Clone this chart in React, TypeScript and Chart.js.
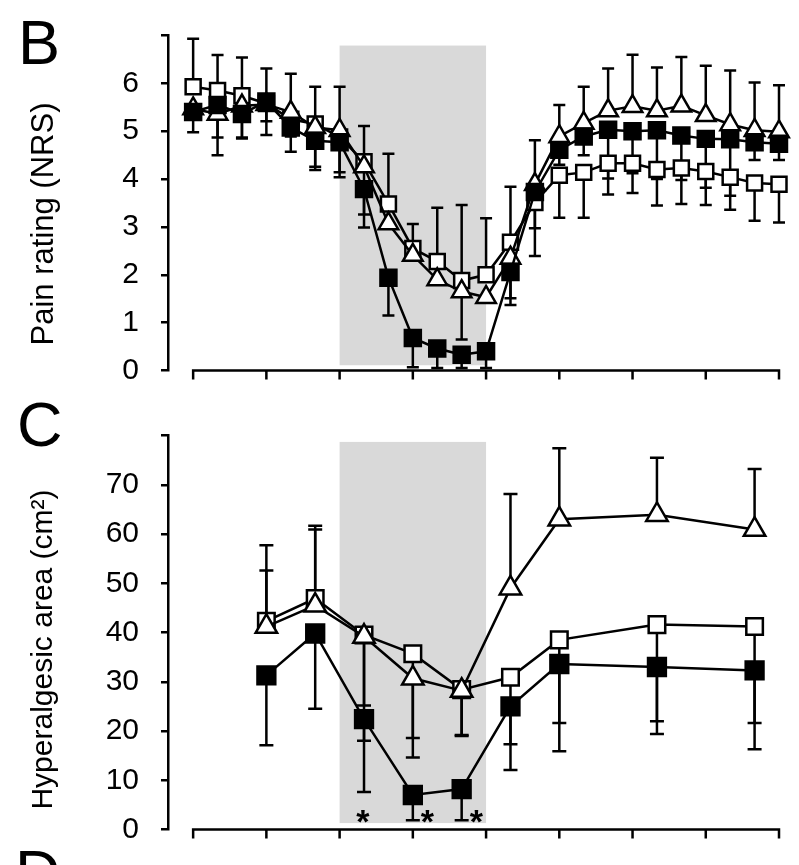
import React, { useEffect, useRef } from "react";
import { Chart, registerables } from "chart.js";

Chart.register(...registerables);

const FONT = '"Liberation Sans", Arial, Helvetica, sans-serif';

// ---------- shared x (time) axis ----------
const xTicks = [0, 3, 6, 9, 12, 15, 18, 21, 24];
const shadePeriod = [6, 12];

// ---------- Panel B: pain rating (NRS) ----------
const bTime = [0, 1, 2, 3, 4, 5, 6, 7, 8, 9, 10, 11, 12, 13, 14, 15, 16, 17, 18, 19, 20, 21, 22, 23, 24];
const bOpen = [5.93, 5.85, 5.74, 5.58, 5.25, 5.15, 4.88, 4.36, 3.48, 2.55, 2.28, 1.88, 2.0, 2.68, 3.51, 4.08, 4.14, 4.33, 4.33, 4.2, 4.23, 4.16, 4.04, 3.92, 3.89];
const bOpenErr = [6.93, 6.59, 6.54, 6.31, 6.2, 5.93, 5.93, 5.11, 4.53, 3.06, 3.4, 3.46, 3.18, 1.51, 2.39, 3.19, 3.19, 3.68, 3.71, 3.45, 3.48, 3.46, 3.36, 3.13, 3.09];
const bTri = [5.47, 5.36, 5.53, 5.56, 5.4, 5.08, 5.02, 4.26, 3.07, 2.41, 1.9, 1.65, 1.53, 2.35, 3.89, 4.89, 5.17, 5.43, 5.52, 5.43, 5.53, 5.33, 5.14, 5.02, 4.99];
const bTriErr = [null, 4.5, 4.85, 5.21, 4.89, 4.26, 4.14, 2.99, null, null, null, 0.65, null, 3.84, 4.81, 5.55, 5.93, 6.31, 6.6, 6.33, 6.55, 6.37, 6.27, 6.02, 5.96];
const bFilled = [5.4, 5.55, 5.36, 5.62, 5.08, 4.8, 4.77, 3.79, 1.94, 0.68, 0.46, 0.33, 0.4, 2.06, 3.73, 4.61, 4.89, 5.03, 5.0, 5.02, 4.91, 4.84, 4.83, 4.77, 4.74];
const bFilledErr = [4.98, 4.87, 4.87, 4.92, 4.57, 4.19, 4.04, 3.26, 1.15, 0.07, 0.05, 0.05, 0.05, 1.37, 2.97, 4.3, 4.5, 4.01, 4.12, 4.0, 3.98, 3.82, 3.65, 4.4, 4.4];
const bYTicks = [0, 1, 2, 3, 4, 5, 6, 7];
const bYLabels = ["0", "1", "2", "3", "4", "5", "6", ""];
const bShadeRange = [0.11, 6.79];

// ---------- Panel C: hyperalgesic area (cm²) ----------
const cTime = [3, 5, 7, 9, 11, 13, 15, 19, 23];
const cOpen = [42.3, 46.9, 39.5, 35.7, 28.4, 30.9, 38.5, 41.6, 41.2];
const cOpenErr = [57.7, 61.7, 25.2, 18.6, 19.0, 17.3, 21.6, 22.0, 21.6];
const cTri = [41.2, 45.5, 39.2, 30.7, 28.2, 49.0, 63.0, 63.9, 60.9];
const cTriErr = [52.6, 60.9, 18.0, 14.6, 19.2, 68.1, 77.4, 75.5, 73.2];
const cFilled = [31.3, 39.8, 22.4, 7.0, 8.2, 25.0, 33.6, 33.0, 32.3];
const cFilledErr = [17.1, 24.5, 7.6, 1.9, 1.9, 12.1, 15.9, 19.4, 16.3];
const cYTicks = [0, 10, 20, 30, 40, 50, 60, 70, 80];
const cYLabels = ["0", "10", "20", "30", "40", "50", "60", "70", ""];
const cShadeRange = [1.3, 78.7];
const cAsteriskTime = [6.95, 9.6, 11.6];
const cAsteriskValue = 3.3;

type PanelSpec = {
  yMin: number;
  yMax: number;
  yTicks: number[];
  yLabels: string[];
  padding: { top: number; right: number; bottom: number; left: number };
  shadeRange: number[];
  capWidth: number;
  title: string;
  titleFont: number;
  titleDy: number;
  letters: { text: string; x: number; y: number }[];
  asteriskTime?: number[];
  asteriskValue?: number;
  datasets: any[];
};

function series(time: number[], vals: number[], errs: (number | null)[], shape: string, fill: string, radius: number) {
  return {
    data: time.map((t, i) => ({ x: t, y: vals[i] })),
    errEnd: errs,
    borderColor: "#000",
    borderWidth: 2.5,
    backgroundColor: fill,
    pointStyle: shape,
    pointRadius: radius,
    pointBackgroundColor: fill,
    pointBorderColor: "#000",
    pointBorderWidth: 2.5,
    tension: 0,
    clip: false,
    fill: false,
  };
}

function makeOverlay(p: PanelSpec) {
  return {
    id: "overlay",
    beforeDatasetsDraw(chart: any) {
      const { ctx } = chart;
      const xs = chart.scales.x;
      const ys = chart.scales.y;
      ctx.save();
      // shaded treatment period
      const x0 = xs.getPixelForValue(shadePeriod[0]);
      const x1 = xs.getPixelForValue(shadePeriod[1]);
      const y0 = ys.getPixelForValue(p.shadeRange[1]);
      const y1 = ys.getPixelForValue(p.shadeRange[0]);
      ctx.fillStyle = "#d9d9d9";
      ctx.fillRect(x0, y0, x1 - x0, y1 - y0);
      // error bars
      ctx.strokeStyle = "#000";
      ctx.lineWidth = 2.5;
      ctx.lineCap = "butt";
      chart.data.datasets.forEach((ds: any) => {
        const errs = ds.errEnd;
        if (!errs) return;
        ds.data.forEach((pt: any, i: number) => {
          const e = errs[i];
          if (e === null || e === undefined) return;
          const px = xs.getPixelForValue(pt.x);
          const py = ys.getPixelForValue(pt.y);
          const pe = ys.getPixelForValue(e);
          ctx.beginPath();
          ctx.moveTo(px, py);
          ctx.lineTo(px, pe);
          ctx.moveTo(px - p.capWidth / 2, pe);
          ctx.lineTo(px + p.capWidth / 2, pe);
          ctx.stroke();
        });
      });
      ctx.restore();
    },
    afterDraw(chart: any) {
      const { ctx, chartArea } = chart;
      const xs = chart.scales.x;
      const ys = chart.scales.y;
      ctx.save();
      // x axis (starts at time 0, detached from y axis)
      ctx.strokeStyle = "#000";
      ctx.lineWidth = 2.5;
      const yb = chartArea.bottom;
      ctx.beginPath();
      ctx.moveTo(xs.getPixelForValue(xTicks[0]) - 1.25, yb);
      ctx.lineTo(xs.getPixelForValue(xTicks[xTicks.length - 1]) + 1.25, yb);
      xTicks.forEach((t) => {
        const px = xs.getPixelForValue(t);
        ctx.moveTo(px, yb);
        ctx.lineTo(px, yb + 9);
      });
      ctx.stroke();
      // y title
      ctx.fillStyle = "#000";
      ctx.font = `${p.titleFont}px ${FONT}`;
      ctx.textAlign = "center";
      ctx.textBaseline = "middle";
      ctx.translate(44, (chartArea.top + chartArea.bottom) / 2 + p.titleDy);
      ctx.rotate(-Math.PI / 2);
      ctx.fillText(p.title, 0, 0);
      ctx.setTransform(1, 0, 0, 1, 0, 0);
      // panel letters
      ctx.textAlign = "left";
      ctx.textBaseline = "alphabetic";
      ctx.font = `63px ${FONT}`;
      p.letters.forEach((l) => ctx.fillText(l.text, l.x, l.y));
      // asterisks
      if (p.asteriskTime) {
        ctx.font = `bold 34px ${FONT}`;
        ctx.textAlign = "center";
        p.asteriskTime.forEach((t) => {
          ctx.fillText("*", xs.getPixelForValue(t), ys.getPixelForValue(p.asteriskValue as number) + 20);
        });
      }
      ctx.restore();
    },
  };
}

function buildConfig(p: PanelSpec): any {
  return {
    type: "line",
    data: { datasets: p.datasets },
    options: {
      responsive: false,
      maintainAspectRatio: false,
      animation: false,
      devicePixelRatio: 1,
      events: [],
      layout: { padding: p.padding },
      plugins: { legend: { display: false }, tooltip: { enabled: false } },
      scales: {
        x: { type: "linear", min: -1.03, max: 24, display: false },
        y: {
          type: "linear",
          min: p.yMin,
          max: p.yMax,
          afterFit: (s: any) => {
            s.width = 168;
          },
          afterBuildTicks: (s: any) => {
            s.ticks = p.yTicks.map((v) => ({ value: v }));
          },
          ticks: {
            color: "#000",
            padding: 22,
            font: { family: FONT, size: 30, lineHeight: 0.9 },
            callback: (_v: any, i: number) => p.yLabels[i],
          },
          grid: { drawOnChartArea: false, drawTicks: true, tickLength: 7, color: "#000", lineWidth: 2.5 },
          border: { display: true, color: "#000", width: 2.5 },
        },
      },
    },
    plugins: [makeOverlay(p)],
  };
}

export default function App() {
  const refB = useRef<HTMLCanvasElement | null>(null);
  const refC = useRef<HTMLCanvasElement | null>(null);

  useEffect(() => {
    const specB: PanelSpec = {
      yMin: 0,
      yMax: 7,
      yTicks: bYTicks,
      yLabels: bYLabels,
      padding: { top: 14, right: 20, bottom: 20, left: 0 },
      shadeRange: bShadeRange,
      capWidth: 12,
      title: "Pain rating (NRS)",
      titleFont: 31,
      titleDy: 21,
      letters: [{ text: "B", x: 18, y: 64 }],
      datasets: [
        series(bTime, bFilled, bFilledErr, "rect", "#000", 11.3),
        series(bTime, bTri, bTriErr, "triangle", "#fff", 11.3),
        series(bTime, bOpen, bOpenErr, "rect", "#fff", 10.6),
      ],
    };
    const specC: PanelSpec = {
      yMin: 0,
      yMax: 80,
      yTicks: cYTicks,
      yLabels: cYLabels,
      padding: { top: 16, right: 20, bottom: 25, left: 0 },
      shadeRange: cShadeRange,
      capWidth: 14,
      title: "Hyperalgesic area (cm\u00B2)",
      titleFont: 30,
      titleDy: 17,
      letters: [
        { text: "C", x: 17, y: 46 },
        { text: "D", x: 15, y: 494 },
      ],
      asteriskTime: cAsteriskTime,
      asteriskValue: cAsteriskValue,
      datasets: [
        series(cTime, cFilled, cFilledErr, "rect", "#000", 12.6),
        series(cTime, cTri, cTriErr, "triangle", "#fff", 12.4),
        series(cTime, cOpen, cOpenErr, "rect", "#fff", 11.7),
      ],
    };
    const chartB = new Chart(refB.current as HTMLCanvasElement, buildConfig(specB));
    const chartC = new Chart(refC.current as HTMLCanvasElement, buildConfig(specC));
    return () => {
      chartB.destroy();
      chartC.destroy();
    };
  }, []);

  return (
    <div
      style={{
        position: "absolute",
        left: 0,
        top: 0,
        width: 799,
        height: 865,
        overflow: "hidden",
        background: "#fff",
      }}
    >
      <canvas
        ref={refB}
        width={799}
        height={406}
        style={{ position: "absolute", left: 0, top: 0, width: 799, height: 406 }}
      />
      <canvas
        ref={refC}
        width={799}
        height={465}
        style={{ position: "absolute", left: 0, top: 400, width: 799, height: 465 }}
      />
    </div>
  );
}
